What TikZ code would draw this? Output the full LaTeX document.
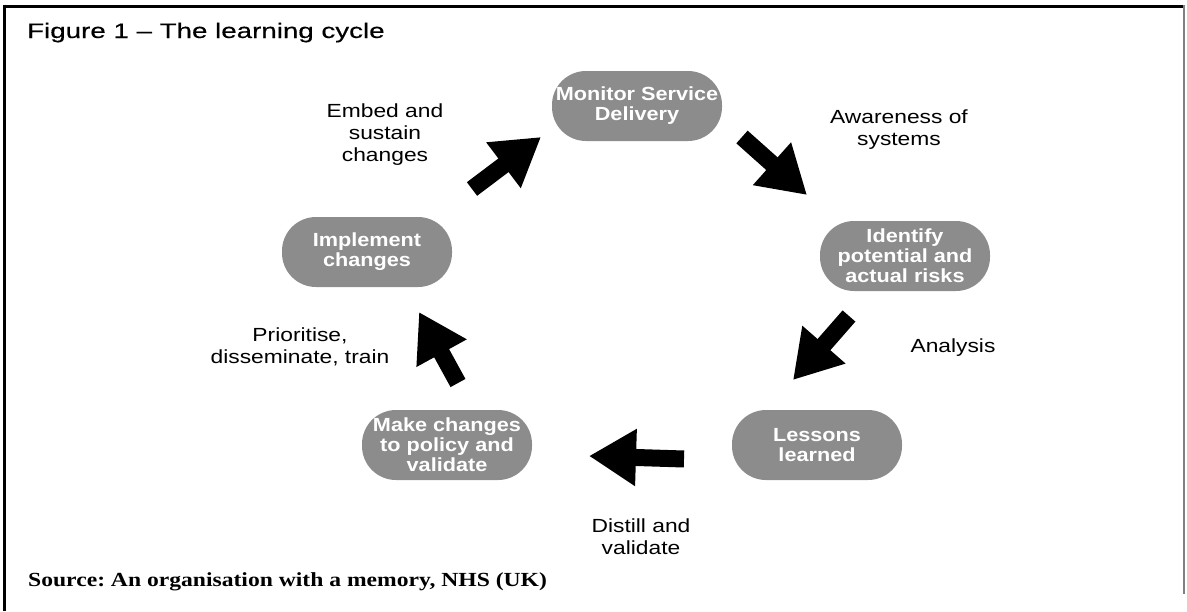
\documentclass[tikz,border=0pt]{standalone}
\usepackage{fontspec}
\setmainfont{Liberation Sans}
\newfontfamily\lblfont{Liberation Sans}[FakeStretch=1.2, Ligatures=TeX]
\newfontfamily\pillfont{Liberation Sans}[FakeStretch=1.14, Ligatures=TeX]
\newfontfamily\titlefont{Liberation Sans}[FakeStretch=1.32, FakeBold=0.4, Ligatures=TeX]
\newfontfamily\srcfont{Liberation Serif}[FakeStretch=1.18, Ligatures=TeX]
\usetikzlibrary{arrows.meta}
\definecolor{pillgray}{RGB}{140,140,140}
\tikzset{
  pill/.style={rectangle, rounded corners=34pt, fill=pillgray, minimum width=170pt, minimum height=70pt,
    inner sep=0pt, align=center, text=white, font=\pillfont\bfseries\fontsize{19}{20}\selectfont},
  lbl/.style={align=center, text=black, inner sep=0pt, font=\lblfont\fontsize{19}{22}\selectfont},
  bigarrow/.style={line width=17pt, black, -{Triangle[length=47pt,width=54pt]}},
}
\begin{document}
\frenchspacing
\begin{tikzpicture}[x=1pt,y=-1pt]
\useasboundingbox (0,0) rectangle (1187,611);
% frame
\draw[line width=3pt] (3,6) -- (1185,6);
\draw[line width=3pt] (4.5,4.5) -- (4.5,611);
\draw[line width=1.5pt, gray] (1184,5) -- (1184,594);
% title
\node[anchor=base west, inner sep=0pt, font=\titlefont\fontsize{21}{24}\selectfont] (title) at (27,38) {Figure 1 – The learning cycle};
% nodes
\node[pill] (mon) at (637,106) {Monitor Service\\Delivery};
\node[pill] (ide) at (905,256) {Identify\\potential and\\actual risks};
\node[pill] (les) at (817,445) {Lessons\\learned};
\node[pill] (mak) at (447,445) {Make changes\\to policy and\\validate};
\node[pill] (imp) at (367,252) {Implement\\changes};
% labels
\node[lbl] (lemb) at (385,135) {Embed and\\sustain\\changes};
\node[lbl] (lawa) at (899,130) {Awareness of\\systems};
\node[lbl] (lana) at (953,348) {Analysis};
\node[lbl] (ldis) at (641,537) {Distill and\\validate};
\node[lbl] (lpri) at (300,347) {Prioritise,\\disseminate, train};
% arrows
\coordinate (a1s) at (472,189); \coordinate (a1e) at (541,137);
\coordinate (a2s) at (742,137); \coordinate (a2e) at (807,195);
\coordinate (a3s) at (849,316); \coordinate (a3e) at (793,380);
\coordinate (a4s) at (684,459); \coordinate (a4e) at (589,456);
\coordinate (a5s) at (458,383); \coordinate (a5e) at (419,312);
\draw[bigarrow] (a1s) -- (a1e);
\draw[bigarrow] (a2s) -- (a2e);
\draw[bigarrow] (a3s) -- (a3e);
\draw[bigarrow] (a4s) -- (a4e);
\draw[bigarrow] (a5s) -- (a5e);
% source
\node[anchor=base west, inner sep=0pt, font=\srcfont\bfseries\fontsize{20}{24}\selectfont] (src) at (28,586) {Source: An organisation with a memory, NHS (UK)};
\end{tikzpicture}
\end{document}
